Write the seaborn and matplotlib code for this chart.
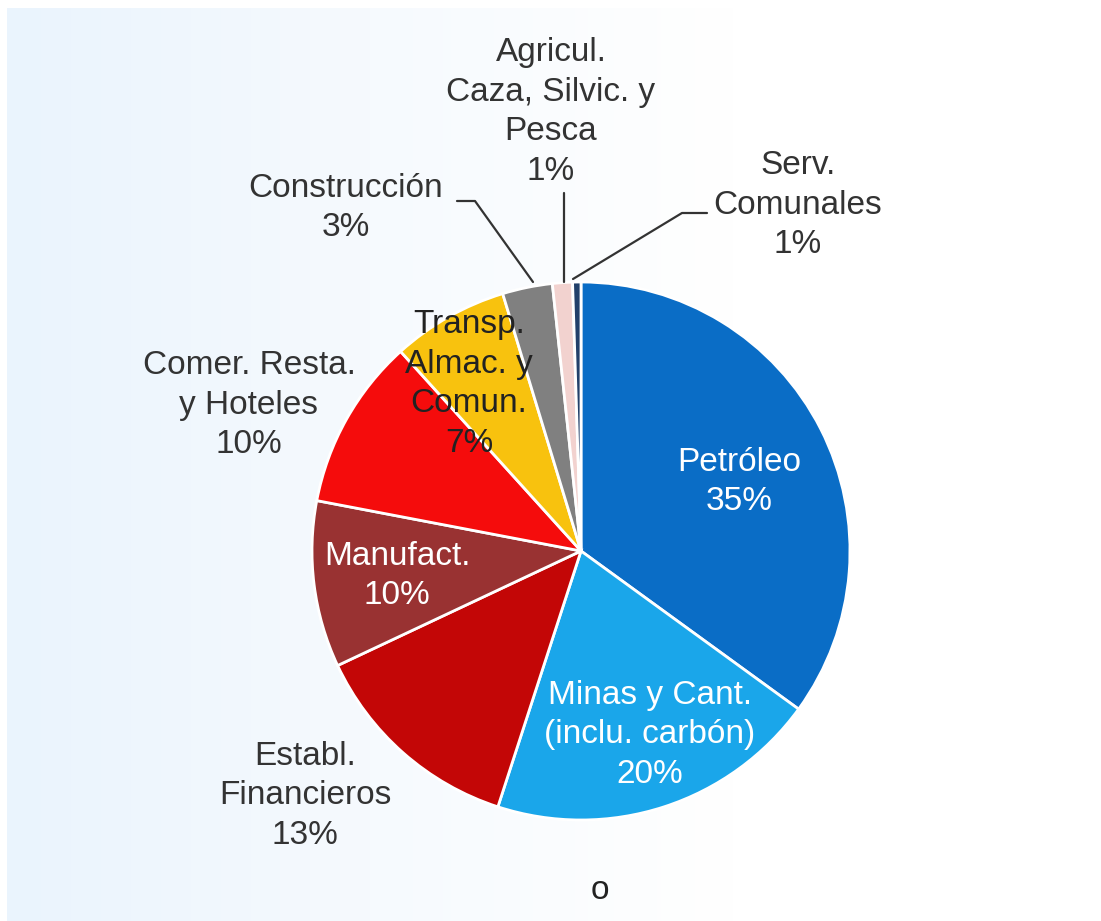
import matplotlib.pyplot as plt
import numpy as np
import seaborn as sns
from matplotlib.colors import LinearSegmentedColormap

# Sectores (sentido horario desde las 12)
sectores = ['Petróleo', 'Minas y Cant.\n(inclu. carbón)', 'Establ.\nFinancieros', 'Manufact.',
            'Comer. Resta.\ny Hoteles', 'Transp.\nAlmac. y\nComun.', 'Construcción',
            'Agricul.\nCaza, Silvic. y\nPesca', 'Serv.\nComunales']
valores = [35, 20, 13, 10, 10.3, 7, 3, 1.2, 0.5]
porcentajes = ['35%', '20%', '13%', '10%', '10%', '7%', '3%', '1%', '1%']
colores = ['#0a6dc6', '#1aa6ea', '#c30606', '#993232', '#f50c0c', '#f8c20e', '#808080',
           '#f2d2cf', '#22406a']

W, H = 1101, 921
CX, CY, R = 581, 551, 269

sns.set_theme(style="white")
plt.rcParams['font.family'] = ['Liberation Sans', 'DejaVu Sans']

fig = plt.figure(figsize=(W / 100, H / 100), dpi=100)
fig.patch.set_facecolor('white')

# fondo degradado celeste claro
bg = fig.add_axes([7 / W, 0, 1 - 7 / W, 1 - 8 / H])
grad = np.linspace(0, 1, 256).reshape(1, -1)
cmap_bg = LinearSegmentedColormap.from_list('bg', ['#eaf4fd', '#f6fafe', '#ffffff', '#ffffff'])
bg.imshow(grad, aspect='auto', cmap=cmap_bg, extent=[0, 1, 0, 1])
bg.axis('off')

ax = fig.add_axes([(CX - R) / W, (H - CY - R) / H, 2 * R / W, 2 * R / H])
ax.pie(valores, colors=colores, startangle=90, counterclock=False, radius=1,
       wedgeprops=dict(edgecolor='white', linewidth=2))
ax.set_xlim(-1, 1)
ax.set_ylim(-1, 1)
ax.axis('off')


def px(x, y):
    return (x - CX) / R, (CY - y) / R


# etiquetas: (centro x, centro y en píxeles, color)
pos = [(739, 482, 'white'), (650, 735, 'white'), (305, 796, '#333333'), (397, 576, 'white'),
       (249, 405, '#333333'), (469, 384, '#222222'), (346, 208, '#333333'),
       (551, 112, '#333333'), (798, 205, '#333333')]

for nombre, pct, (x, y, c) in zip(sectores, porcentajes, pos):
    tx, ty = px(x, y)
    ax.text(tx, ty, nombre + '\n' + pct, ha='center', va='center', fontsize=24,
            color=c, linespacing=1.36, clip_on=False)

# líneas guía
guias = [[(457, 201), (475, 201), (533, 282)],
         [(564, 193), (564, 282)],
         [(707, 213), (682, 213), (573, 279)]]
for g in guias:
    pts = np.array([px(x, y) for x, y in g])
    ax.plot(pts[:, 0], pts[:, 1], color='#333333', lw=1.6, clip_on=False)

fig.text(600 / W, 1 - 890 / H, 'o', ha='center', va='center', fontsize=24, color='#222222')

plt.savefig('out.png', dpi=100)
